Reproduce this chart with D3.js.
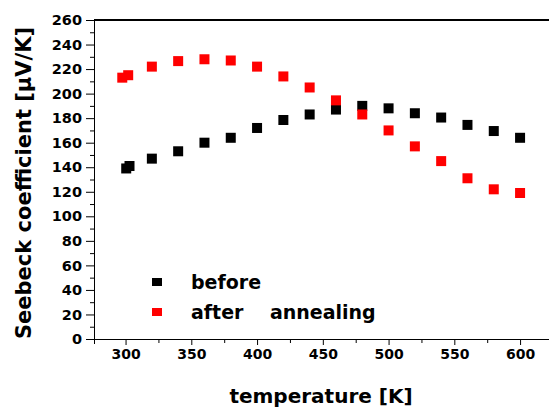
<!DOCTYPE html>
<html>
<head>
<meta charset="utf-8">
<script src="https://cdn.jsdelivr.net/npm/d3@7"></script>
<style>
  body { margin: 0; background: #fff; }
  text { font-family: "DejaVu Sans", Verdana, sans-serif; font-weight: bold; }
</style>
</head>
<body>
<div class="container"></div>
<script>
// data
const tempBefore = [300.5, 303, 320, 340, 360, 380, 400, 420, 440, 460, 480, 500, 520, 540, 560, 580, 600]
const seebeckBefore = [139, 141, 147, 153, 160, 164, 172, 178.5, 183, 187, 190, 188, 184, 180.5, 174.5, 169.5, 164]
const tempAfter = [297.5, 302, 320, 340, 360, 380, 400, 420, 440, 460, 480, 500, 520, 540, 560, 580, 600]
const seebeckAfter = [213, 215, 222, 226.5, 228, 227, 222, 214, 205, 194.5, 183, 170, 157, 145, 131, 122, 119]
const xTicks = [300, 350, 400, 450, 500, 550, 600]
const yTicks = [0, 20, 40, 60, 80, 100, 120, 140, 160, 180, 200, 220, 240, 260]
const legendNames = ["before", "after    annealing"]
const colors = ["#000000", "#ff0000"]

const w = 549
const h = 407
const padL = 94, padT = 20, padB = 339, padR = 549

const svg = d3.select('.container').append('svg')
  .attr('width', w)
  .attr('height', h)

const xScale = d3.scaleLinear().domain([276, 622]).range([padL, padR])
const yScale = d3.scaleLinear().domain([0, 260]).range([padB, padT])

// top frame line
svg.append('line')
  .attr('x1', padL).attr('x2', padR)
  .attr('y1', padT).attr('y2', padT)
  .attr('stroke', '#000').attr('stroke-width', 2)

// x axis
const xAxis = d3.axisBottom(xScale)
  .tickValues(xTicks)
  .tickSize(6)
  .tickPadding(4)
  .tickFormat(d3.format('d'))

const gx = svg.append('g')
  .attr('transform', 'translate(0,' + padB + ')')
  .call(xAxis)
gx.select('.domain').attr('d', 'M' + padL + ',0.5H' + padR)
gx.selectAll('text').style('font-size', '14px').attr('fill', '#000')

// minor x ticks
svg.append('g')
  .attr('transform', 'translate(0,' + padB + ')')
  .call(d3.axisBottom(xScale).tickValues([325, 375, 425, 475, 525, 575]).tickSize(4).tickFormat(''))
  .select('.domain').remove()

// y axis
const yAxis = d3.axisLeft(yScale)
  .tickValues(yTicks)
  .tickSize(8)
  .tickPadding(4)

const gy = svg.append('g')
  .attr('transform', 'translate(' + padL + ',0)')
  .call(yAxis)
gy.select('.domain').attr('d', 'M0.5,' + padT + 'V' + (padB + 5))
gy.selectAll('text').style('font-size', '14.5px').attr('fill', '#000')

svg.append('g')
  .attr('transform', 'translate(' + padL + ',0)')
  .call(d3.axisLeft(yScale).tickValues(d3.range(10, 260, 20)).tickSize(4).tickFormat(''))
  .select('.domain').remove()

// axis titles
svg.append('text')
  .attr('x', 321).attr('y', 403)
  .attr('text-anchor', 'middle')
  .style('font-size', '20px')
  .text('temperature [K]')

svg.append('text')
  .attr('transform', 'translate(31,183) rotate(-90)')
  .attr('text-anchor', 'middle')
  .style('font-size', '21px')
  .text('Seebeck coefficient [μV/K]')

// markers
const sz = 10
const series = [
  { t: tempBefore, s: seebeckBefore, c: colors[0] },
  { t: tempAfter, s: seebeckAfter, c: colors[1] }
]
series.forEach(ser => {
  svg.append('g')
    .selectAll('rect')
    .data(ser.t.map((t, i) => [t, ser.s[i]]))
    .enter()
    .append('rect')
    .attr('x', d => xScale(d[0]) - sz / 2)
    .attr('y', d => yScale(d[1]) - sz / 2)
    .attr('width', sz)
    .attr('height', sz)
    .attr('fill', ser.c)
})

// legend
const legend = svg.append('g').attr('transform', 'translate(152,278)')
legendNames.forEach((name, i) => {
  legend.append('rect')
    .attr('x', 0).attr('y', i * 30)
    .attr('width', 10).attr('height', 8)
    .attr('fill', colors[i])
  legend.append('text')
    .attr('x', 39).attr('y', i * 30 + 11)
    .attr('xml:space', 'preserve')
    .style('white-space', 'pre')
    .style('font-size', '19px')
    .text(name)
})
</script>
</body>
</html>
